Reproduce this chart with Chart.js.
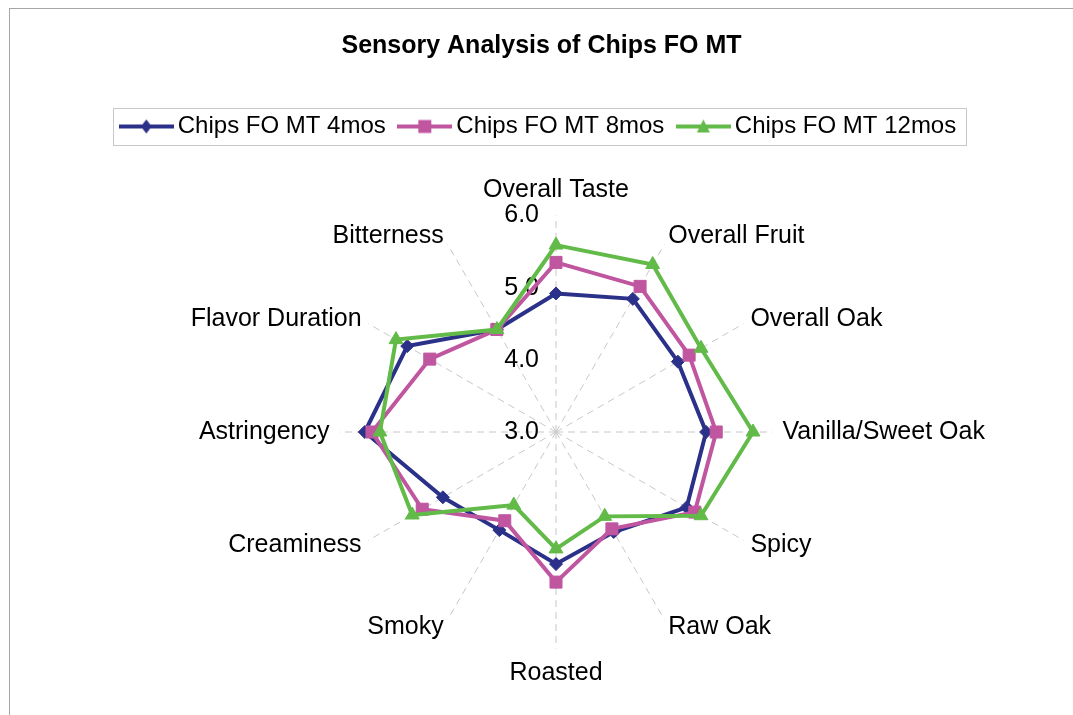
<!DOCTYPE html>
<html>
<head>
<meta charset="utf-8">
<script src="https://cdn.jsdelivr.net/npm/chart.js@4/dist/chart.umd.min.js"></script>
<style>
  html, body { margin: 0; padding: 0; background: #fff; overflow: hidden; }
  #frame { position: absolute; left: 9px; top: 8px; width: 1100px; height: 800px;
           border-top: 1px solid #a6a6a6; border-left: 1px solid #a6a6a6; }
  #myChart { position: absolute; left: 0; top: 0; }
</style>
</head>
<body>
<div id="frame"></div>
<canvas id="myChart" width="1073" height="715"></canvas>
<script>
// Datos
const categories = ['Overall Taste', 'Overall Fruit', 'Overall Oak', 'Vanilla/Sweet Oak', 'Spicy', 'Raw Oak',
                    'Roasted', 'Smoky', 'Creaminess', 'Astringency', 'Flavor Duration', 'Bitterness'];
const seriesNames = ['Chips FO MT 4mos', 'Chips FO MT 8mos', 'Chips FO MT 12mos'];
const mos4  = [4.92, 5.13, 4.95, 5.08, 5.09, 4.60, 4.83, 4.57, 4.81, 5.65, 5.38, 4.64];
const mos8  = [5.35, 5.33, 5.13, 5.22, 5.22, 4.55, 5.08, 4.42, 5.14, 5.55, 5.02, 4.64];
const mos12 = [5.59, 5.68, 5.32, 5.73, 5.32, 4.35, 4.62, 4.17, 5.30, 5.44, 5.56, 4.64];
const tickValues = [3, 4, 5, 6];

const FONT = '"Liberation Sans", Arial, sans-serif';
const colors = ['#2B3188', '#C056A0', '#62BA48'];
const shapes = ['rectRot', 'rect', 'triangle'];

// Icono de leyenda: linea + marcador
function legendIcon(color, shape) {
    const c = document.createElement('canvas');
    c.width = 55; c.height = 20;
    const g = c.getContext('2d');
    g.strokeStyle = color; g.fillStyle = color; g.lineWidth = 4;
    g.beginPath(); g.moveTo(0, 10); g.lineTo(55, 10); g.stroke();
    g.beginPath();
    if (shape === 'rectRot') {
        g.moveTo(27.5, 3); g.lineTo(33, 10); g.lineTo(27.5, 17); g.lineTo(22, 10);
    } else if (shape === 'rect') {
        g.rect(21, 3.5, 13, 13);
    } else {
        g.moveTo(27.5, 3); g.lineTo(34, 16); g.lineTo(21, 16);
    }
    g.closePath(); g.fill();
    return c;
}
const legendIcons = colors.map((c, i) => legendIcon(c, shapes[i]));

// Marco de la leyenda
const legendBoxPlugin = {
    id: 'legendBox',
    afterDraw(chart) {
        const hb = chart.legend.legendHitBoxes;
        if (!hb || !hb.length) return;
        const first = hb[0], last = hb[hb.length - 1];
        const cy = first.top + first.height / 2;
        const left = first.left + 39 / 2 - 27.5 - 6;
        const right = last.left + last.width + 10;
        const ctx = chart.ctx;
        ctx.save();
        ctx.strokeStyle = '#c8c8c8';
        ctx.lineWidth = 1;
        ctx.strokeRect(Math.round(left) + 0.5, Math.round(cy - 18.5) + 0.5, Math.round(right - left), 37);
        ctx.restore();
    }
};

// Etiquetas de la escala (3.0 ... 6.0) a la izquierda del eje vertical
const tickLabelsPlugin = {
    id: 'tickLabels',
    beforeDatasetsDraw(chart) {
        const s = chart.scales.r;
        const ctx = chart.ctx;
        ctx.save();
        ctx.font = '25px ' + FONT;
        ctx.fillStyle = '#000';
        ctx.textAlign = 'right';
        ctx.textBaseline = 'middle';
        tickValues.forEach(v => {
            const y = s.yCenter - s.getDistanceFromCenterForValue(v);
            ctx.fillText(v.toFixed(1), s.xCenter - 17, y);
        });
        ctx.restore();
    }
};

const seriesData = [mos4, mos8, mos12];
const pointSizes = [6.5, 8.5, 8];
const isCardinal = i => i % 3 === 0;

const ctx = document.getElementById('myChart').getContext('2d');
const chart = new Chart(ctx, {
    type: 'radar',
    data: {
        labels: categories,
        datasets: seriesData.map((d, i) => ({
            label: seriesNames[i],
            data: d,
            borderColor: colors[i],
            backgroundColor: colors[i],
            pointBackgroundColor: colors[i],
            pointBorderColor: colors[i],
            pointBorderWidth: 1,
            pointStyle: shapes[i],
            pointRadius: pointSizes[i],
            borderWidth: 4,
            fill: false,
            tension: 0,
            clip: false,
            order: 2 - i
        }))
    },
    options: {
        responsive: false,
        animation: false,
        layout: { padding: { left: 10, right: 0, top: 0, bottom: 26 } },
        plugins: {
            tooltip: { enabled: false },
            title: {
                display: true,
                text: 'Sensory Analysis of Chips FO MT',
                color: '#000',
                font: { size: 25, weight: 'bold', family: FONT },
                padding: { top: 31, bottom: 34 }
            },
            legend: {
                display: true,
                position: 'top',
                labels: {
                    color: '#000',
                    font: { size: 24, family: FONT },
                    padding: 19.5,
                    usePointStyle: true,
                    pointStyleWidth: 39,
                    sort: (a, b) => a.datasetIndex - b.datasetIndex,
                    generateLabels: (ch) => Chart.defaults.plugins.legend.labels.generateLabels(ch)
                        .map(item => Object.assign(item, { pointStyle: legendIcons[item.datasetIndex] }))
                }
            }
        },
        scales: {
            r: {
                min: 3,
                max: 6,
                ticks: { display: false, stepSize: 1 },
                grid: { display: false },
                angleLines: { display: true, color: '#c8c8c8', lineWidth: 1, borderDash: [7, 5] },
                pointLabels: {
                    color: '#000',
                    // las etiquetas diagonales van centradas verticalmente en su radio
                    font: c => ({ size: 25, family: FONT, lineHeight: isCardinal(c.index) ? 1.2 : '2px' }),
                    padding: c => isCardinal(c.index) ? 10 : 8
                }
            },
            // espaciadores invisibles para ajustar la posicion del radar
            gapTop: {
                type: 'linear', position: 'top', display: true,
                grid: { display: false }, border: { display: false }, ticks: { display: false },
                afterFit: s => { s.height = 27; }
            },
            gapLeft: {
                type: 'linear', position: 'left', display: true,
                grid: { display: false }, border: { display: false }, ticks: { display: false },
                afterFit: s => { s.width = 29; }
            }
        }
    },
    plugins: [tickLabelsPlugin, legendBoxPlugin]
});
</script>
</body>
</html>
